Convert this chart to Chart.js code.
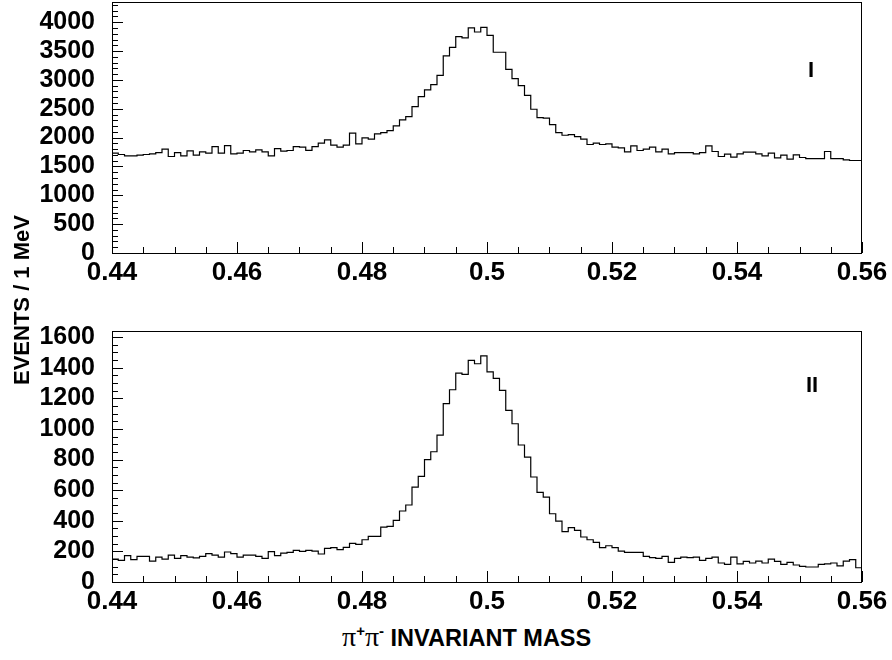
<!DOCTYPE html>
<html>
<head>
<meta charset="utf-8">
<script src="https://cdn.jsdelivr.net/npm/chart.js@4.4.1/dist/chart.umd.min.js"></script>
<style>
  body { margin: 0; background: #fff; }
  #wrap { position: relative; width: 892px; height: 660px; overflow: hidden; }
  canvas { position: absolute; left: 0; }
  .lbl { position: absolute; font-family: "Liberation Sans", Arial, sans-serif; font-weight: bold; color: #000; white-space: nowrap; }
  .pi { font-family: "Liberation Serif", "DejaVu Serif", serif; font-weight: normal; font-size: 28px; }
  .sup { font-size: 15px; position: relative; top: -10px; }
</style>
</head>
<body>
<div id="wrap">
  <canvas id="chart1" width="892" height="300" style="top:0px"></canvas>
  <canvas id="chart2" width="892" height="300" style="top:320px"></canvas>
  <div class="lbl" style="left:808px; top:57px; font-size:22px;">I</div>
  <div class="lbl" style="left:806px; top:372px; font-size:22px;">II</div>
  <div class="lbl" style="left:-70px; top:287px; width:184px; font-size:22px; text-align:center; transform:rotate(-90deg);">EVENTS / 1 MeV</div>
  <div class="lbl" style="left:342px; top:621px; font-size:23.5px;"><span class="pi">&pi;</span><span class="sup">+</span><span class="pi">&pi;</span><span class="sup">-</span> INVARIANT MASS</div>
</div>
<script>
// histogram binning: 1 MeV bins from 0.44 to 0.56 GeV
var binLow = 0.44;
var binWidth = 0.001;
var xTicks = [0.44, 0.46, 0.48, 0.5, 0.52, 0.54, 0.56];

// sample I - events per bin
var countsI = [
  1730, 1707, 1683, 1683, 1695, 1707, 1718, 1741, 1799, 1672,
  1741, 1683, 1770, 1695, 1753, 1730, 1845, 1730, 1862, 1718,
  1730, 1776, 1753, 1787, 1753, 1683, 1810, 1764, 1776, 1845,
  1834, 1780, 1845, 1903, 1960, 1868, 1834, 1868, 2076, 1891,
  1995, 1972, 2064, 2087, 2122, 2203, 2307, 2365, 2538, 2711,
  2826, 2919, 3080, 3415, 3565, 3750, 3727, 3900, 3830, 3911,
  3773, 3479, 3479, 3183, 3021, 2900, 2733, 2491, 2347, 2336,
  2225, 2087, 2041, 2053, 2018, 1972, 1880, 1903, 1880, 1891,
  1834, 1822, 1753, 1857, 1776, 1799, 1834, 1753, 1799, 1718,
  1741, 1741, 1741, 1718, 1741, 1857, 1759, 1672, 1712, 1660,
  1718, 1747, 1747, 1718, 1683, 1730, 1649, 1695, 1626, 1701,
  1655, 1637, 1637, 1637, 1759, 1637, 1637, 1614, 1603, 1603
];
var yTicksI = [0, 500, 1000, 1500, 2000, 2500, 3000, 3500, 4000];

// sample II - events per bin
var countsII = [
  150, 141, 172, 146, 167, 167, 137, 163, 150, 176,
  154, 172, 163, 158, 167, 185, 176, 163, 196, 185,
  163, 176, 176, 167, 154, 198, 172, 189, 193, 206,
  200, 206, 202, 183, 220, 224, 211, 226, 252, 246,
  276, 298, 298, 359, 363, 403, 464, 503, 620, 690,
  799, 851, 960, 1165, 1256, 1365, 1356, 1448, 1426, 1478,
  1373, 1330, 1252, 1121, 1034, 895, 816, 686, 585, 555,
  446, 398, 329, 355, 337, 294, 276, 259, 224, 237,
  224, 202, 194, 194, 194, 167, 159, 154, 167, 128,
  154, 163, 159, 163, 141, 154, 163, 124, 115, 163,
  119, 135, 124, 137, 124, 150, 135, 115, 128, 111,
  102, 98, 98, 115, 119, 124, 106, 137, 146, 93
];
var yTicksII = [0, 200, 400, 600, 800, 1000, 1200, 1400, 1600];

// turn the counts into step points at the bin edges
function histPoints(counts) {
    var pts = [];
    for (var i = 0; i < counts.length; i++) {
        pts.push({ x: binLow + i * binWidth, y: counts[i] });
    }
    pts.push({ x: binLow + counts.length * binWidth, y: counts[counts.length - 1] });
    return pts;
}

/* frame + ROOT style ticks pointing into the plot */
var frameTicks = {
    id: "frameTicks",
    afterDraw: function(chart, args, opts) {
        var ctx = chart.ctx;
        var a = chart.chartArea;
        var xs = chart.scales.x;
        var ys = chart.scales.y;
        ctx.save();
        ctx.strokeStyle = "#000";
        ctx.lineWidth = 1;
        ctx.beginPath();
        // x ticks every 5 MeV, major every 20 MeV
        for (var i = 0; i <= 24; i++) {
            var px = Math.round(xs.getPixelForValue(0.44 + i * 0.005)) + 0.5;
            var len = (i % 4 === 0) ? 11 : 6;
            ctx.moveTo(px, a.bottom);
            ctx.lineTo(px, a.bottom - len);
        }
        // y ticks
        for (var k = 0; k * opts.minor <= ys.max; k++) {
            var v = k * opts.minor;
            var py = Math.round(ys.getPixelForValue(v)) + 0.5;
            var ylen = (v % opts.major === 0) ? 11 : 6;
            ctx.moveTo(a.left, py);
            ctx.lineTo(a.left + ylen, py);
        }
        ctx.stroke();
        ctx.strokeRect(a.left + 0.5, a.top + 0.5, a.right - a.left - 1, a.bottom - a.top);
        ctx.restore();
    }
};

function makePanel(id, counts, yMax, yTicks, major, minor, topPad, xHeight) {
    var ctx = document.getElementById(id);
    return new Chart(ctx, {
        type: "line",
        data: {
            datasets: [{
                data: histPoints(counts),
                stepped: true,
                borderColor: "#000",
                borderWidth: 1.2,
                pointRadius: 0,
                fill: false
            }]
        },
        options: {
            responsive: false,
            animation: false,
            devicePixelRatio: 1,
            layout: { padding: { left: 0, right: 30, top: topPad, bottom: 0 } },
            plugins: {
                legend: { display: false },
                tooltip: { enabled: false },
                frameTicks: { major: major, minor: minor }
            },
            scales: {
                x: {
                    type: "linear",
                    min: 0.44,
                    max: 0.56,
                    grid: { display: false, drawTicks: false },
                    border: { display: false },
                    afterBuildTicks: function(s) {
                        s.ticks = xTicks.map(function(v) { return { value: v }; });
                    },
                    afterFit: function(s) {
                        s.height = xHeight;
                        s.paddingLeft = 0;
                        s.paddingRight = 0;
                    },
                    ticks: {
                        maxRotation: 0,
                        autoSkip: false,
                        padding: 4,
                        color: "#000",
                        font: { family: "Liberation Sans", weight: "bold", size: 26 },
                        callback: function(v) { return String(Number(v.toFixed(2))); }
                    }
                },
                y: {
                    min: 0,
                    max: yMax,
                    grid: { display: false, drawTicks: false },
                    border: { display: false },
                    afterBuildTicks: function(s) {
                        s.ticks = yTicks.map(function(v) { return { value: v }; });
                    },
                    afterFit: function(s) {
                        s.width = 112;
                        s.paddingTop = 0;
                        s.paddingBottom = 0;
                    },
                    ticks: {
                        autoSkip: false,
                        padding: 17,
                        color: "#000",
                        font: { family: "Liberation Sans", weight: "bold", size: 25 },
                        callback: function(v) { return String(v); }
                    }
                }
            }
        },
        plugins: [frameTicks]
    });
}

makePanel("chart1", countsI, 4350, yTicksI, 500, 100, 2, 47);
makePanel("chart2", countsII, 1640, yTicksII, 200, 50, 11, 38);
</script>
</body>
</html>
